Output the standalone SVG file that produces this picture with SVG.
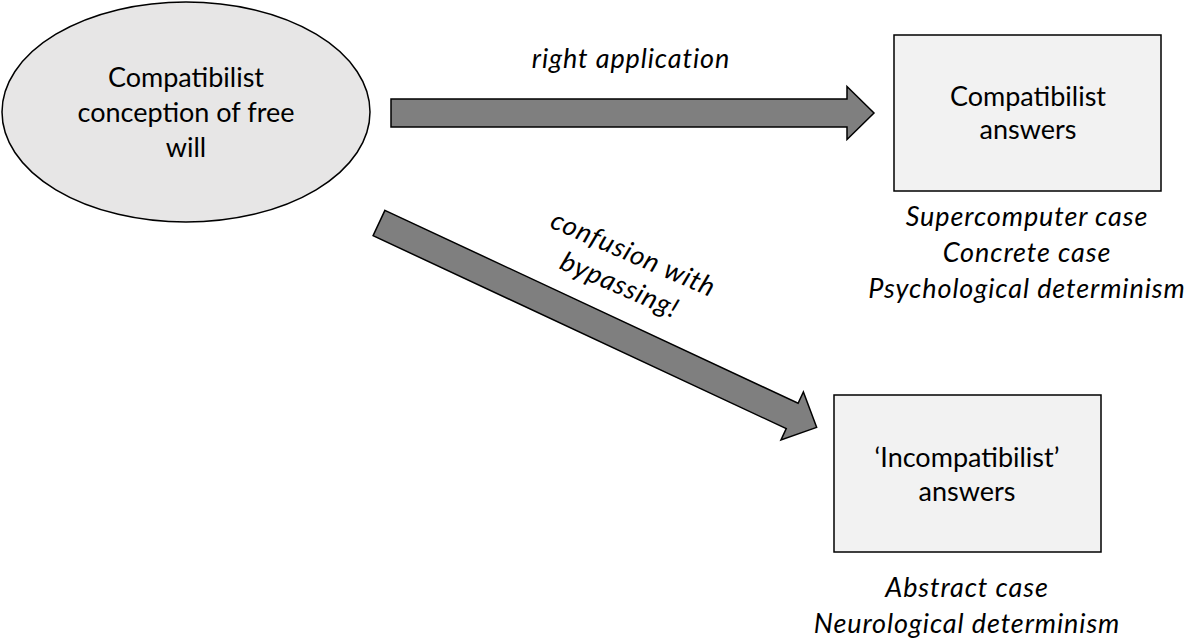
<svg xmlns="http://www.w3.org/2000/svg" width="1187" height="639" viewBox="0 0 1187 639">
  <style>
    .label { font-family: Lato, "Open Sans", "Liberation Sans", sans-serif; font-size: 27px; fill: #000; text-anchor: middle; }
    .note { font-style: italic; letter-spacing: 0.9px; }
    .shape { stroke: #000; stroke-width: 1.5; }
    .arrow { fill: #7f7f7f; stroke: #000; stroke-width: 1.5; stroke-linejoin: miter; }
  </style>
  <defs>
    <!-- block arrow pointing along +x, origin at the middle of the tail -->
    <path id="blockArrow" d="M0,-14 H456 V-26.5 L483,0 L456,26.5 V14 H0 Z"/>
  </defs>
  <rect width="1187" height="639" fill="#fff"/>

  <g id="connectors">
    <use href="#blockArrow" class="arrow" transform="translate(391,113)"/>
    <use href="#blockArrow" class="arrow" transform="translate(379,223) rotate(25.03)"/>
    <text class="label note" x="631" y="68">right application</text>
    <g transform="translate(626.5,269.5) rotate(23.5)">
      <text class="label note" x="0" y="-8">confusion with</text>
      <text class="label note" x="0" y="26">bypassing!</text>
    </g>
  </g>

  <g id="compatibilist-conception">
    <ellipse class="shape" cx="186" cy="112" rx="184" ry="110" fill="#e7e6e6"/>
    <text class="label" x="186" y="87">Compatibilist</text>
    <text class="label" x="186" y="122">conception of free</text>
    <text class="label" x="186" y="157">will</text>
  </g>

  <g id="compatibilist-answers">
    <rect class="shape" x="894" y="35" width="267" height="156" fill="#f2f2f2"/>
    <text class="label" x="1028" y="106">Compatibilist</text>
    <text class="label" x="1028" y="139">answers</text>
    <text class="label note" x="1027" y="226">Supercomputer case</text>
    <text class="label note" x="1027" y="262">Concrete case</text>
    <text class="label note" x="1027" y="298">Psychological determinism</text>
  </g>

  <g id="incompatibilist-answers">
    <rect class="shape" x="834" y="395" width="267" height="157" fill="#f2f2f2"/>
    <text class="label" x="967" y="467">‘Incompatibilist’</text>
    <text class="label" x="967" y="501">answers</text>
    <text class="label note" x="967" y="597">Abstract case</text>
    <text class="label note" x="967" y="633">Neurological determinism</text>
  </g>
</svg>
